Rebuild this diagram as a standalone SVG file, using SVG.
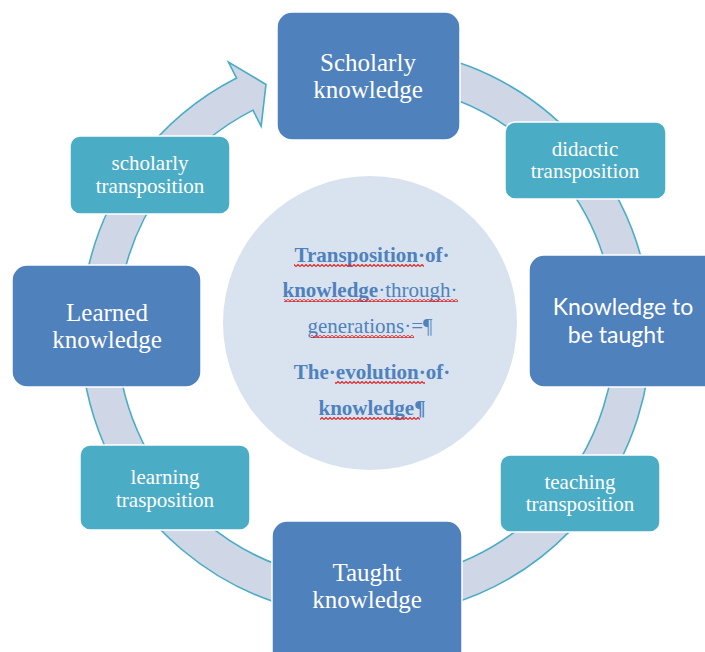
<svg xmlns="http://www.w3.org/2000/svg" width="705" height="652" viewBox="0 0 705 652">
  <defs>
    <!-- red spell-check squiggle -->
    <pattern id="squiggle" x="0" y="0" width="4" height="3" patternUnits="userSpaceOnUse">
      <path d="M0,2.5 L2,0.5 L4,2.5" fill="none" stroke="#E02020" stroke-width="1.1"/>
    </pattern>
  </defs>
  <style>
    .ring { fill: #CFD7E6; stroke: #4BACC6; stroke-width: 1.6; stroke-linejoin: miter; }
    .hub { fill: #D9E3F0; }
    .main rect { fill: #4F81BD; stroke: #FFFFFF; stroke-width: 1.5; }
    .step rect { fill: #4BACC6; stroke: #FFFFFF; stroke-width: 1.5; }
    .main text { fill: #FFFFFF; font-family: "Liberation Serif", "Times New Roman", serif; font-size: 25px; text-anchor: middle; }
    .main text.sans { font-family: Lato, "Liberation Sans", sans-serif; font-size: 23px; }
    .step text { fill: #FFFFFF; font-family: "Liberation Serif", "Times New Roman", serif; font-size: 21px; text-anchor: middle; }
    .hubtext { fill: #4F81BD; font-family: "Liberation Serif", "Times New Roman", serif; font-size: 21px; font-weight: bold; text-anchor: middle; }
    .hubtext .light { font-weight: normal; }
    .wave { fill: url(#squiggle); }
  </style>

  <!-- circular arrow running clockwise round the cycle -->
  <g id="connectors">
    <path class="ring" d="M341.16,48.09 A285,285 0 1 1 236.61,78.06 L228.44,62.02 L265.98,84.44 L261.13,126.18 L252.96,110.14 A249,249 0 1 0 344.30,83.95 Z"/>
  </g>

  <!-- central hub -->
  <g id="hub">
    <circle class="hub" cx="370" cy="323" r="147"/>
    <text class="hubtext" x="372" y="262">Transposition·of·</text>
    <text class="hubtext" x="370" y="297">knowledge<tspan class="light">·through·</tspan></text>
    <text class="hubtext" x="370" y="333"><tspan class="light">generations·=¶</tspan></text>
    <text class="hubtext" x="372" y="379">The·evolution·of·</text>
    <text class="hubtext" x="372" y="415">knowledge¶</text>
    <rect class="wave" x="294" y="264" width="130" height="3"/>
    <rect class="wave" x="284" y="299" width="174" height="3"/>
    <rect class="wave" x="311" y="335" width="103" height="3"/>
    <rect class="wave" x="335" y="381" width="90" height="3"/>
    <rect class="wave" x="320" y="417" width="100" height="3"/>
  </g>

  <g id="scholarly-knowledge" class="main">
    <rect x="277" y="12" width="183" height="128" rx="15"/>
    <text x="368" y="71">Scholarly</text>
    <text x="368" y="98">knowledge</text>
  </g>

  <g id="didactic-transposition" class="step">
    <rect x="505" y="122" width="161" height="77" rx="10"/>
    <text x="585" y="156">didactic</text>
    <text x="585" y="178">transposition</text>
  </g>

  <g id="knowledge-to-be-taught" class="main">
    <rect x="529" y="255" width="190" height="132" rx="15"/>
    <text class="sans" x="623" y="315">Knowledge to</text>
    <text class="sans" x="616" y="343">be taught</text>
  </g>

  <g id="teaching-transposition" class="step">
    <rect x="500" y="455" width="160" height="77" rx="10"/>
    <text x="580" y="489">teaching</text>
    <text x="580" y="511">transposition</text>
  </g>

  <g id="taught-knowledge" class="main">
    <rect x="272" y="521" width="190" height="145" rx="15"/>
    <text x="367" y="581">Taught</text>
    <text x="367" y="608">knowledge</text>
  </g>

  <g id="learning-trasposition" class="step">
    <rect x="80" y="445" width="170" height="85" rx="10"/>
    <text x="165" y="484">learning</text>
    <text x="165" y="507">trasposition</text>
  </g>

  <g id="learned-knowledge" class="main">
    <rect x="12" y="265" width="189" height="122" rx="15"/>
    <text x="107" y="321">Learned</text>
    <text x="107" y="348">knowledge</text>
  </g>

  <g id="scholarly-transposition" class="step">
    <rect x="70" y="136" width="160" height="78" rx="10"/>
    <text x="150" y="170">scholarly</text>
    <text x="150" y="193">transposition</text>
  </g>
</svg>
